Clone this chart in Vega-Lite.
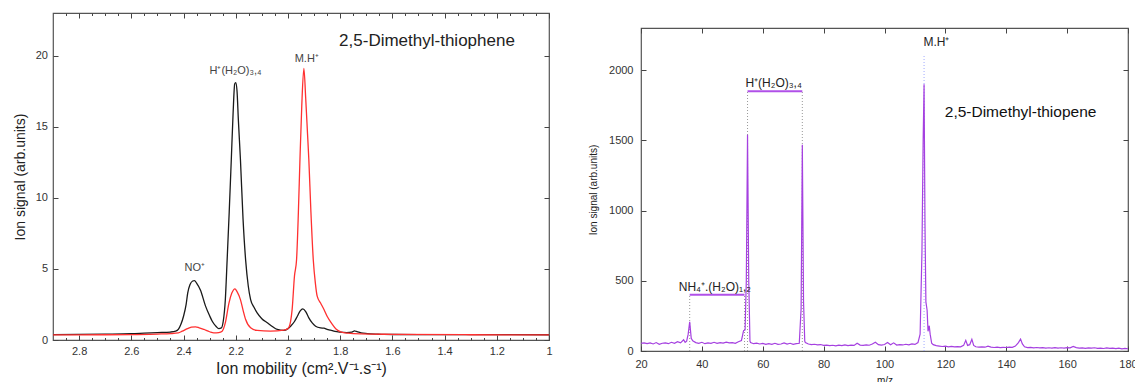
{
"$schema": "https://vega.github.io/schema/vega-lite/v6.json",
"background": "white",
"padding": {"left": 12, "top": 11, "right": 0, "bottom": 0},
"spacing": 34,
"config": {
  "font": "Liberation Sans",
  "view": {"stroke": "#555", "strokeWidth": 1.2},
  "axis": {"grid": false, "domain": false, "tickSize": -5, "tickColor": "#444", "labelColor": "#333", "labelFontSize": 11, "titleColor": "#222", "titleFontWeight": "normal", "labelFlush": false, "labelOverlap": false}
},
"datasets": {
  "black": [
    {"mobility": 2.9, "signal": 0.38}, {"mobility": 2.8, "signal": 0.39}, {"mobility": 2.7, "signal": 0.41}, {"mobility": 2.6, "signal": 0.44},
    {"mobility": 2.55, "signal": 0.48}, {"mobility": 2.5, "signal": 0.52}, {"mobility": 2.45, "signal": 0.56}, {"mobility": 2.43, "signal": 0.62},
    {"mobility": 2.42, "signal": 0.74}, {"mobility": 2.41, "signal": 1.1}, {"mobility": 2.4, "signal": 1.67}, {"mobility": 2.39, "signal": 2.5},
    {"mobility": 2.384, "signal": 3.3}, {"mobility": 2.375, "signal": 3.9}, {"mobility": 2.365, "signal": 4.15}, {"mobility": 2.358, "signal": 4.18},
    {"mobility": 2.35, "signal": 4.0}, {"mobility": 2.335, "signal": 3.5}, {"mobility": 2.316, "signal": 2.4}, {"mobility": 2.3, "signal": 1.7},
    {"mobility": 2.29, "signal": 1.32}, {"mobility": 2.275, "signal": 0.95}, {"mobility": 2.265, "signal": 0.8}, {"mobility": 2.255, "signal": 0.85},
    {"mobility": 2.248, "signal": 1.3}, {"mobility": 2.24, "signal": 2.8}, {"mobility": 2.233, "signal": 5.6}, {"mobility": 2.225, "signal": 9.0},
    {"mobility": 2.217, "signal": 12.7}, {"mobility": 2.21, "signal": 16.0}, {"mobility": 2.204, "signal": 18.0}, {"mobility": 2.2, "signal": 18.1},
    {"mobility": 2.195, "signal": 17.5}, {"mobility": 2.19, "signal": 15.5}, {"mobility": 2.182, "signal": 12.7}, {"mobility": 2.172, "signal": 8.5},
    {"mobility": 2.162, "signal": 5.6}, {"mobility": 2.152, "signal": 3.8}, {"mobility": 2.143, "signal": 2.84}, {"mobility": 2.13, "signal": 2.3},
    {"mobility": 2.118, "signal": 1.91}, {"mobility": 2.1, "signal": 1.5}, {"mobility": 2.079, "signal": 1.21}, {"mobility": 2.06, "signal": 0.95},
    {"mobility": 2.041, "signal": 0.74}, {"mobility": 2.016, "signal": 0.67}, {"mobility": 2.0, "signal": 0.8}, {"mobility": 1.99, "signal": 0.97},
    {"mobility": 1.975, "signal": 1.3}, {"mobility": 1.964, "signal": 1.67}, {"mobility": 1.953, "signal": 2.05}, {"mobility": 1.943, "signal": 2.19},
    {"mobility": 1.932, "signal": 2.0}, {"mobility": 1.92, "signal": 1.56}, {"mobility": 1.907, "signal": 1.2}, {"mobility": 1.894, "signal": 0.97},
    {"mobility": 1.875, "signal": 0.85}, {"mobility": 1.862, "signal": 0.83}, {"mobility": 1.85, "signal": 0.75}, {"mobility": 1.837, "signal": 0.69},
    {"mobility": 1.82, "signal": 0.6}, {"mobility": 1.8, "signal": 0.55}, {"mobility": 1.775, "signal": 0.52}, {"mobility": 1.755, "signal": 0.55},
    {"mobility": 1.745, "signal": 0.64}, {"mobility": 1.738, "signal": 0.6}, {"mobility": 1.72, "signal": 0.5}, {"mobility": 1.696, "signal": 0.45},
    {"mobility": 1.66, "signal": 0.41}, {"mobility": 1.632, "signal": 0.39}, {"mobility": 1.5, "signal": 0.38}, {"mobility": 1.3, "signal": 0.38},
    {"mobility": 1.0, "signal": 0.37}
  ],
  "red": [
    {"mobility": 2.9, "signal": 0.36}, {"mobility": 2.7, "signal": 0.37}, {"mobility": 2.6, "signal": 0.38}, {"mobility": 2.5, "signal": 0.42},
    {"mobility": 2.45, "signal": 0.45}, {"mobility": 2.42, "signal": 0.5}, {"mobility": 2.405, "signal": 0.62}, {"mobility": 2.385, "signal": 0.8},
    {"mobility": 2.37, "signal": 0.9}, {"mobility": 2.354, "signal": 0.93}, {"mobility": 2.34, "signal": 0.86}, {"mobility": 2.322, "signal": 0.74},
    {"mobility": 2.3, "signal": 0.58}, {"mobility": 2.284, "signal": 0.5}, {"mobility": 2.265, "signal": 0.52}, {"mobility": 2.252, "signal": 0.62},
    {"mobility": 2.24, "signal": 1.2}, {"mobility": 2.226, "signal": 2.6}, {"mobility": 2.215, "signal": 3.3}, {"mobility": 2.203, "signal": 3.6},
    {"mobility": 2.195, "signal": 3.4}, {"mobility": 2.182, "signal": 2.84}, {"mobility": 2.172, "signal": 2.1}, {"mobility": 2.162, "signal": 1.44},
    {"mobility": 2.143, "signal": 0.86}, {"mobility": 2.118, "signal": 0.67}, {"mobility": 2.067, "signal": 0.62}, {"mobility": 2.016, "signal": 0.69},
    {"mobility": 2.0, "signal": 0.8}, {"mobility": 1.997, "signal": 0.86}, {"mobility": 1.99, "signal": 1.3}, {"mobility": 1.984, "signal": 2.14},
    {"mobility": 1.975, "signal": 4.5}, {"mobility": 1.967, "signal": 5.65}, {"mobility": 1.96, "signal": 9.0}, {"mobility": 1.954, "signal": 12.7},
    {"mobility": 1.947, "signal": 16.5}, {"mobility": 1.939, "signal": 19.1}, {"mobility": 1.932, "signal": 17.0}, {"mobility": 1.925, "signal": 14.5},
    {"mobility": 1.92, "signal": 12.7}, {"mobility": 1.912, "signal": 9.0}, {"mobility": 1.903, "signal": 5.65}, {"mobility": 1.895, "signal": 4.0},
    {"mobility": 1.888, "signal": 3.08}, {"mobility": 1.875, "signal": 2.6}, {"mobility": 1.862, "signal": 2.14}, {"mobility": 1.85, "signal": 1.67},
    {"mobility": 1.83, "signal": 1.1}, {"mobility": 1.815, "signal": 0.75}, {"mobility": 1.798, "signal": 0.57}, {"mobility": 1.77, "signal": 0.48},
    {"mobility": 1.72, "signal": 0.43}, {"mobility": 1.6, "signal": 0.4}, {"mobility": 1.3, "signal": 0.37}, {"mobility": 1.0, "signal": 0.36}
  ],
  "leftLabels": [
    {"mobility": 2.357, "signal": 5.07, "label": "NO⁺"},
    {"mobility": 2.201, "signal": 18.95, "label": "H⁺(H₂O)₃,₄"},
    {"mobility": 1.928, "signal": 19.75, "label": "M.H⁺"}
  ],
  "leftTitle": [
    {"mobility": 1.804, "signal": 21.0, "label": "2,5-Dimethyl-thiophene"}
  ],
  "spectrum": [
    {"mz": 20, "signal": 55}, {"mz": 21, "signal": 58}, {"mz": 22, "signal": 52}, {"mz": 23, "signal": 57}, {"mz": 24, "signal": 50},
    {"mz": 25, "signal": 60}, {"mz": 26, "signal": 48}, {"mz": 27, "signal": 55}, {"mz": 28, "signal": 58}, {"mz": 29, "signal": 52},
    {"mz": 30, "signal": 62}, {"mz": 31, "signal": 55}, {"mz": 32, "signal": 66}, {"mz": 33, "signal": 58}, {"mz": 34, "signal": 80},
    {"mz": 34.5, "signal": 62}, {"mz": 35, "signal": 70}, {"mz": 35.5, "signal": 120}, {"mz": 36, "signal": 207}, {"mz": 36.5, "signal": 90},
    {"mz": 37, "signal": 72}, {"mz": 38, "signal": 60}, {"mz": 39, "signal": 55}, {"mz": 40, "signal": 62}, {"mz": 41, "signal": 52},
    {"mz": 42, "signal": 58}, {"mz": 43, "signal": 55}, {"mz": 44, "signal": 62}, {"mz": 45, "signal": 54}, {"mz": 46, "signal": 60},
    {"mz": 47, "signal": 56}, {"mz": 48, "signal": 63}, {"mz": 49, "signal": 58}, {"mz": 50, "signal": 60}, {"mz": 51, "signal": 55},
    {"mz": 52, "signal": 66}, {"mz": 53, "signal": 75}, {"mz": 53.7, "signal": 145}, {"mz": 54.2, "signal": 150}, {"mz": 54.6, "signal": 500},
    {"mz": 55, "signal": 1540}, {"mz": 55.4, "signal": 500}, {"mz": 55.8, "signal": 70}, {"mz": 56, "signal": 60}, {"mz": 57, "signal": 52},
    {"mz": 58, "signal": 56}, {"mz": 59, "signal": 50}, {"mz": 60, "signal": 54}, {"mz": 61, "signal": 47}, {"mz": 62, "signal": 52},
    {"mz": 63, "signal": 48}, {"mz": 64, "signal": 55}, {"mz": 65, "signal": 47}, {"mz": 66, "signal": 50}, {"mz": 67, "signal": 58},
    {"mz": 68, "signal": 49}, {"mz": 69, "signal": 55}, {"mz": 70, "signal": 47}, {"mz": 71, "signal": 52}, {"mz": 72, "signal": 55},
    {"mz": 72.6, "signal": 300}, {"mz": 73, "signal": 1468}, {"mz": 73.4, "signal": 350}, {"mz": 73.8, "signal": 70}, {"mz": 74, "signal": 60},
    {"mz": 75, "signal": 50}, {"mz": 76, "signal": 45}, {"mz": 77, "signal": 48}, {"mz": 78, "signal": 44}, {"mz": 79, "signal": 46},
    {"mz": 80, "signal": 40}, {"mz": 81, "signal": 42}, {"mz": 82, "signal": 38}, {"mz": 83, "signal": 41}, {"mz": 84, "signal": 37},
    {"mz": 85, "signal": 42}, {"mz": 86, "signal": 38}, {"mz": 87, "signal": 44}, {"mz": 88, "signal": 39}, {"mz": 89, "signal": 42},
    {"mz": 90, "signal": 40}, {"mz": 91, "signal": 55}, {"mz": 92, "signal": 42}, {"mz": 93, "signal": 40}, {"mz": 94, "signal": 44},
    {"mz": 95, "signal": 41}, {"mz": 96, "signal": 50}, {"mz": 97, "signal": 62}, {"mz": 98, "signal": 45}, {"mz": 99, "signal": 42},
    {"mz": 100, "signal": 46}, {"mz": 101, "signal": 60}, {"mz": 102, "signal": 44}, {"mz": 103, "signal": 58}, {"mz": 104, "signal": 42},
    {"mz": 105, "signal": 46}, {"mz": 106, "signal": 43}, {"mz": 107, "signal": 48}, {"mz": 108, "signal": 44}, {"mz": 109, "signal": 50},
    {"mz": 110, "signal": 47}, {"mz": 111, "signal": 60}, {"mz": 111.7, "signal": 120}, {"mz": 112.3, "signal": 700}, {"mz": 112.7, "signal": 1500},
    {"mz": 113, "signal": 1900}, {"mz": 113.3, "signal": 900}, {"mz": 113.6, "signal": 350}, {"mz": 114, "signal": 290}, {"mz": 114.3, "signal": 140},
    {"mz": 114.7, "signal": 180}, {"mz": 115, "signal": 120}, {"mz": 115.5, "signal": 55}, {"mz": 116, "signal": 45}, {"mz": 117, "signal": 38},
    {"mz": 118, "signal": 35}, {"mz": 119, "signal": 32}, {"mz": 120, "signal": 34}, {"mz": 121, "signal": 30}, {"mz": 122, "signal": 33},
    {"mz": 123, "signal": 29}, {"mz": 124, "signal": 31}, {"mz": 125, "signal": 30}, {"mz": 126, "signal": 40}, {"mz": 126.7, "signal": 76},
    {"mz": 127.3, "signal": 40}, {"mz": 128, "signal": 45}, {"mz": 128.7, "signal": 83}, {"mz": 129.3, "signal": 40}, {"mz": 130, "signal": 30},
    {"mz": 131, "signal": 28}, {"mz": 132, "signal": 30}, {"mz": 133, "signal": 27}, {"mz": 134, "signal": 35}, {"mz": 135, "signal": 28},
    {"mz": 136, "signal": 25}, {"mz": 137, "signal": 27}, {"mz": 138, "signal": 24}, {"mz": 139, "signal": 26}, {"mz": 140, "signal": 25},
    {"mz": 141, "signal": 28}, {"mz": 142, "signal": 26}, {"mz": 143, "signal": 35}, {"mz": 144, "signal": 60}, {"mz": 144.7, "signal": 85},
    {"mz": 145.3, "signal": 50}, {"mz": 146, "signal": 30}, {"mz": 147, "signal": 24}, {"mz": 148, "signal": 26}, {"mz": 149, "signal": 22},
    {"mz": 150, "signal": 25}, {"mz": 151, "signal": 22}, {"mz": 152, "signal": 24}, {"mz": 153, "signal": 21}, {"mz": 154, "signal": 23},
    {"mz": 155, "signal": 20}, {"mz": 156, "signal": 24}, {"mz": 157, "signal": 21}, {"mz": 158, "signal": 23}, {"mz": 159, "signal": 20},
    {"mz": 160, "signal": 24}, {"mz": 161, "signal": 22}, {"mz": 162, "signal": 32}, {"mz": 163, "signal": 24}, {"mz": 164, "signal": 21},
    {"mz": 165, "signal": 22}, {"mz": 166, "signal": 19}, {"mz": 167, "signal": 22}, {"mz": 168, "signal": 20}, {"mz": 169, "signal": 23},
    {"mz": 170, "signal": 19}, {"mz": 171, "signal": 21}, {"mz": 172, "signal": 18}, {"mz": 173, "signal": 22}, {"mz": 174, "signal": 19},
    {"mz": 175, "signal": 21}, {"mz": 176, "signal": 17}, {"mz": 177, "signal": 20}, {"mz": 178, "signal": 15}, {"mz": 179, "signal": 18},
    {"mz": 180, "signal": 16}
  ],
  "guides": [
    {"mz": 36, "low": 0, "high": 400}, {"mz": 54, "low": 0, "high": 400},
    {"mz": 55, "low": 0, "high": 1850}, {"mz": 73, "low": 0, "high": 1850}
  ],
  "parentGuide": [{"mz": 113, "low": 0, "high": 2110}],
  "bars": [
    {"start": 36, "end": 54, "level": 400},
    {"start": 55, "end": 73, "level": 1850}
  ],
  "rightLabels": [
    {"mz": 32.4, "signal": 405, "label": "NH₄⁺.(H₂O)₁,₂"},
    {"mz": 54.3, "signal": 1855, "label": "H⁺(H₂O)₃,₄"},
    {"mz": 112.8, "signal": 2150, "label": "M.H⁺"}
  ],
  "rightTitle": [{"mz": 119.8, "signal": 1705, "label": "2,5-Dimethyl-thiopene"}],
  "blank": []
},
"hconcat": [
  {
    "width": 496,
    "height": 327,
    "layer": [
      {
        "data": {"name": "black"},
        "mark": {"type": "line", "color": "#1a1a1a", "strokeWidth": 1.3, "interpolate": "monotone"},
        "encoding": {
          "x": {"field": "mobility", "type": "quantitative", "scale": {"domain": [2.9, 1], "nice": false, "zero": false},
                "axis": {"orient": "bottom", "values": [2.8, 2.6, 2.4, 2.2, 2.0, 1.8, 1.6, 1.4, 1.2, 1.0], "format": "~g", "labelPadding": 10.5,
                         "title": "Ion mobility (cm².V⁻¹.s⁻¹)", "titleFontSize": 16, "titlePadding": 4}},
          "y": {"field": "signal", "type": "quantitative", "scale": {"domain": [0, 23], "nice": false},
                "axis": {"orient": "left", "values": [0, 5, 10, 15, 20], "labelPadding": 10.5,
                         "title": "Ion signal (arb.units)", "titleFontSize": 14, "titlePadding": 8}}
        }
      },
      {
        "data": {"name": "red"},
        "mark": {"type": "line", "color": "#ff3030", "strokeWidth": 1.3, "interpolate": "monotone"},
        "encoding": {
          "x": {"field": "mobility", "type": "quantitative",
                "axis": {"orient": "top", "values": [2.8, 2.6, 2.4, 2.2, 2.0, 1.8, 1.6, 1.4, 1.2, 1.0], "labels": false, "title": null}},
          "y": {"field": "signal", "type": "quantitative",
                "axis": {"orient": "right", "values": [0, 5, 10, 15, 20], "labels": false, "title": null}}
        }
      },
      {
        "data": {"name": "leftLabels"},
        "mark": {"type": "text", "fontSize": 11, "color": "#444", "align": "center", "baseline": "middle"},
        "encoding": {
          "x": {"field": "mobility", "type": "quantitative",
                "axis": {"orient": "bottom", "values": [2.85, 2.75, 2.7, 2.65, 2.55, 2.5, 2.45, 2.35, 2.3, 2.25, 2.15, 2.1, 2.05, 1.95, 1.9, 1.85, 1.75, 1.7, 1.65, 1.55, 1.5, 1.45, 1.35, 1.3, 1.25, 1.15, 1.1, 1.05], "labels": false, "tickSize": -2.5, "title": null}},
          "y": {"field": "signal", "type": "quantitative", "axis": null},
          "text": {"field": "label"}
        }
      },
      {
        "data": {"name": "leftTitle"},
        "mark": {"type": "text", "fontSize": 17, "color": "#222", "align": "left", "baseline": "middle"},
        "encoding": {
          "x": {"field": "mobility", "type": "quantitative",
                "axis": {"orient": "top", "values": [2.85, 2.75, 2.7, 2.65, 2.55, 2.5, 2.45, 2.35, 2.3, 2.25, 2.15, 2.1, 2.05, 1.95, 1.9, 1.85, 1.75, 1.7, 1.65, 1.55, 1.5, 1.45, 1.35, 1.3, 1.25, 1.15, 1.1, 1.05], "labels": false, "tickSize": -2.5, "title": null}},
          "y": {"field": "signal", "type": "quantitative", "axis": null},
          "text": {"field": "label"}
        }
      }
    ]
  },
  {
    "spacing": 12,
    "vconcat": [
      {
        "width": 487,
        "height": 1,
        "view": {"stroke": null},
        "data": {"name": "blank"},
        "mark": {"type": "point"},
        "encoding": {}
      },
      {
        "width": 487,
        "height": 323,
        "layer": [
          {
            "data": {"name": "guides"},
            "mark": {"type": "rule", "color": "#999", "strokeWidth": 1, "strokeDash": [1, 2]},
            "encoding": {
              "x": {"field": "mz", "type": "quantitative", "scale": {"domain": [20, 180], "nice": false, "zero": false},
                    "axis": {"orient": "top", "values": [20, 40, 60, 80, 100, 120, 140, 160, 180], "labels": false, "title": null}},
              "y": {"field": "low", "type": "quantitative", "scale": {"domain": [0, 2300], "nice": false},
                    "axis": {"orient": "right", "values": [0, 500, 1000, 1500, 2000], "labels": false, "title": null}},
              "y2": {"field": "high"}
            }
          },
          {
            "data": {"name": "parentGuide"},
            "mark": {"type": "rule", "color": "#9fa8ff", "strokeWidth": 1, "strokeDash": [1, 2]},
            "encoding": {
              "x": {"field": "mz", "type": "quantitative", "axis": null},
              "y": {"field": "low", "type": "quantitative", "axis": null},
              "y2": {"field": "high"}
            }
          },
          {
            "data": {"name": "spectrum"},
            "mark": {"type": "line", "color": "#a540e0", "strokeWidth": 1.2},
            "encoding": {
              "x": {"field": "mz", "type": "quantitative",
                    "axis": {"orient": "bottom", "values": [20, 40, 60, 80, 100, 120, 140, 160, 180], "labelPadding": 12.5,
                             "title": "m/z", "titleFontSize": 10, "titlePadding": 6}},
              "y": {"field": "signal", "type": "quantitative",
                    "axis": {"orient": "left", "values": [0, 500, 1000, 1500, 2000], "format": "d", "labelPadding": 13,
                             "title": "Ion signal (arb.units)", "titleFontSize": 10, "titlePadding": 10}}
            }
          },
          {
            "data": {"name": "bars"},
            "mark": {"type": "rule", "color": "#b050e8", "strokeWidth": 2},
            "encoding": {
              "x": {"field": "start", "type": "quantitative", "axis": null},
              "x2": {"field": "end"},
              "y": {"field": "level", "type": "quantitative", "axis": null}
            }
          },
          {
            "data": {"name": "rightLabels"},
            "mark": {"type": "text", "fontSize": 12, "color": "#222", "align": "left", "baseline": "bottom"},
            "encoding": {
              "x": {"field": "mz", "type": "quantitative", "axis": null},
              "y": {"field": "signal", "type": "quantitative", "axis": null},
              "text": {"field": "label"}
            }
          },
          {
            "data": {"name": "rightTitle"},
            "mark": {"type": "text", "fontSize": 15.5, "color": "#111", "align": "left", "baseline": "middle"},
            "encoding": {
              "x": {"field": "mz", "type": "quantitative", "axis": null},
              "y": {"field": "signal", "type": "quantitative", "axis": null},
              "text": {"field": "label"}
            }
          }
        ]
      }
    ]
  }
]
}
